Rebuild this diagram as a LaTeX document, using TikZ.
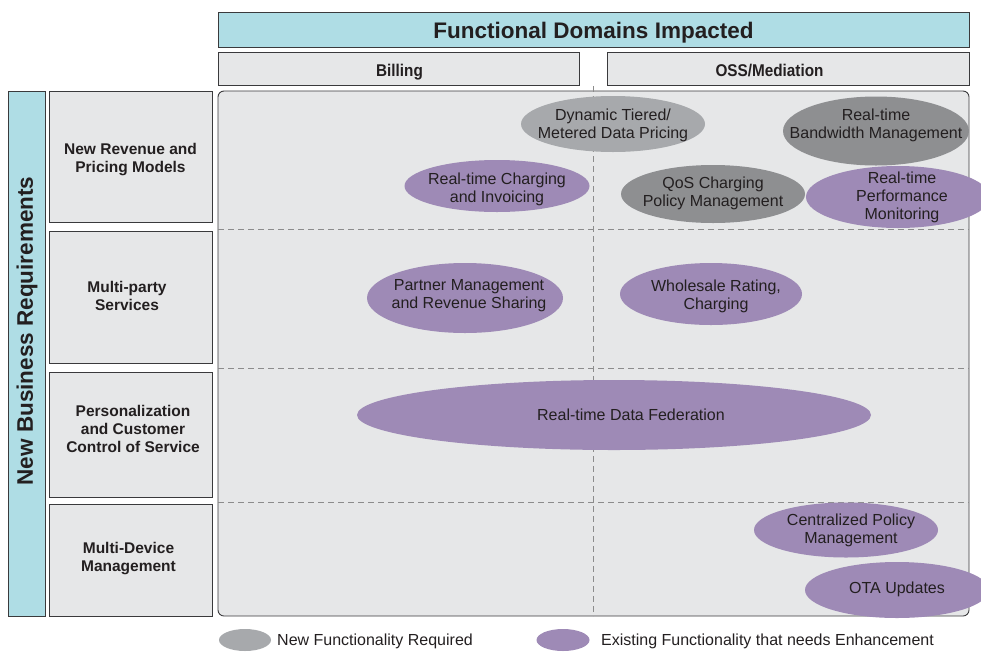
\documentclass[tikz,border=0pt]{standalone}
\usepackage{fontspec}
\setmainfont{Liberation Sans}
\newfontfamily\narrowsans[FakeStretch=0.9]{Liberation Sans}
\usetikzlibrary{shapes.geometric}

\definecolor{headcyan}{HTML}{AFDDE5}
\definecolor{panel}{HTML}{E6E7E8}
\definecolor{frame}{HTML}{3A3A3C}
\definecolor{inktext}{HTML}{231F20}
\definecolor{newgray}{HTML}{A7A9AC}
\definecolor{deepgray}{HTML}{8E8F91}
\definecolor{enhance}{HTML}{9E8AB6}
\definecolor{gridline}{HTML}{8C8C8C}

\begin{document}
\begin{tikzpicture}[x=1pt,y=-1pt,
  box/.style={draw=frame, fill=panel, line width=0.9pt, inner sep=0pt},
  boxtext/.style={inner sep=0pt, align=center, text=inktext},
  headtext/.style={boxtext, text depth=0pt,
    font=\narrowsans\fontsize{17}{20}\selectfont\bfseries},
  rowbox/.style={box, minimum width=163pt},
  rowtext/.style={boxtext, font=\fontsize{15.5}{18}\selectfont\bfseries},
  blob/.style={ellipse, inner sep=0pt},
  newblob/.style={blob, fill=newgray},
  deepblob/.style={blob, fill=deepgray},
  enhblob/.style={blob, fill=enhance},
  blobtext/.style={boxtext, font=\fontsize{16}{18}\selectfont},
  grid/.style={draw=gridline, line width=0.7pt, dash pattern=on 6pt off 4pt},
  legendtext/.style={anchor=west, inner sep=0pt, text=inktext,
    font=\fontsize{16}{18}\selectfont}]
\useasboundingbox (0,0) rectangle (981,651);

% column headers
\node[box, fill=headcyan, minimum width=751pt, minimum height=35pt] (title) at (593.5,29.5) {};
\node[boxtext, text depth=0pt, font=\fontsize{22.5}{26}\selectfont\bfseries]
  (titletext) at (593.5,30.5) {Functional Domains Impacted};
\node[box, minimum width=361pt, minimum height=33pt] (billing) at (398.5,68.5) {};
\node[headtext] (billingtext) at (399.5,70) {Billing};
\node[box, minimum width=362pt, minimum height=33pt] (oss) at (788,68.5) {};
\node[headtext] (osstext) at (769.5,70) {OSS/Mediation};

% row headers
\node[box, fill=headcyan, minimum width=37pt, minimum height=525pt] (req) at (26.5,353.5) {};
\node[boxtext, rotate=90, font=\fontsize{22.5}{26}\selectfont\bfseries]
  (reqtext) at (27,331) {New Business Requirements};
\node[rowbox, minimum height=131pt] (row1) at (130.5,156.5) {};
\node[rowtext] (row1text) at (130.5,160) {New Revenue and\\Pricing Models};
\node[rowbox, minimum height=132pt] (row2) at (130.5,297) {};
\node[rowtext] (row2text) at (127,296) {Multi-party\\Services};
\node[rowbox, minimum height=125pt] (row3) at (130.5,434.5) {};
\node[rowtext] (row3text) at (133,429) {Personalization\\and Customer\\Control of Service};
\node[rowbox, minimum height=112pt] (row4) at (130.5,560) {};
\node[rowtext] (row4text) at (128.5,559) {Multi-Device\\Management};

% matrix panel with its dashed grid
\node[draw=frame, fill=panel, line width=0.9pt, rounded corners=6pt,
  minimum width=751pt, minimum height=525pt, inner sep=0pt] (main) at (593.5,353.5) {};
\draw[grid] (218,229) -- (969,229);
\draw[grid] (218,368) -- (969,368);
\draw[grid] (218,502) -- (969,502);
\draw[grid] (593.5,86) -- (593.5,616);

% impacted functions
\node[newblob, minimum width=184pt, minimum height=56pt] (tiered) at (613,124) {};
\node[blobtext] (tieredtext) at (613,125) {Dynamic Tiered/\\Metered Data Pricing};
\node[deepblob, minimum width=186pt, minimum height=69pt] (bandwidth) at (876,131) {};
\node[blobtext] (bandwidthtext) at (876,125) {Real-time\\Bandwidth Management};
\node[enhblob, minimum width=185pt, minimum height=52pt] (charging) at (497,186) {};
\node[blobtext] (chargingtext) at (497,189) {Real-time Charging\\and Invoicing};
\node[deepblob, minimum width=184pt, minimum height=58pt] (qos) at (713,194) {};
\node[blobtext] (qostext) at (713,193) {QoS Charging\\Policy Management};
\node[enhblob, minimum width=184pt, minimum height=62pt] (perf) at (898,197) {};
\node[blobtext] (perftext) at (902,197) {Real-time\\Performance\\Monitoring};
\node[enhblob, minimum width=196pt, minimum height=70pt] (partner) at (465,298) {};
\node[blobtext] (partnertext) at (469,296) {Partner Management\\and Revenue Sharing};
\node[enhblob, minimum width=182pt, minimum height=62pt] (wholesale) at (711,294) {};
\node[blobtext] (wholesaletext) at (716,296) {Wholesale Rating,\\Charging};
\node[enhblob, minimum width=514pt, minimum height=70pt] (federation) at (614,415) {};
\node[blobtext] (federationtext) at (631,415) {Real-time Data Federation};
\node[enhblob, minimum width=184pt, minimum height=55pt] (policy) at (846,530) {};
\node[blobtext] (policytext) at (851,530) {Centralized Policy\\Management};
\node[enhblob, minimum width=184pt, minimum height=56pt] (ota) at (897,590) {};
\node[blobtext] (otatext) at (897,589) {OTA Updates};

% legend
\node[newblob, minimum width=52pt, minimum height=22pt] (keynew) at (245,640) {};
\node[legendtext] (keynewtext) at (277,641) {New Functionality Required};
\node[enhblob, minimum width=53pt, minimum height=22pt] (keyenh) at (563,640) {};
\node[legendtext] (keyenhtext) at (601,641) {Existing Functionality that needs Enhancement};
\end{tikzpicture}
\end{document}
